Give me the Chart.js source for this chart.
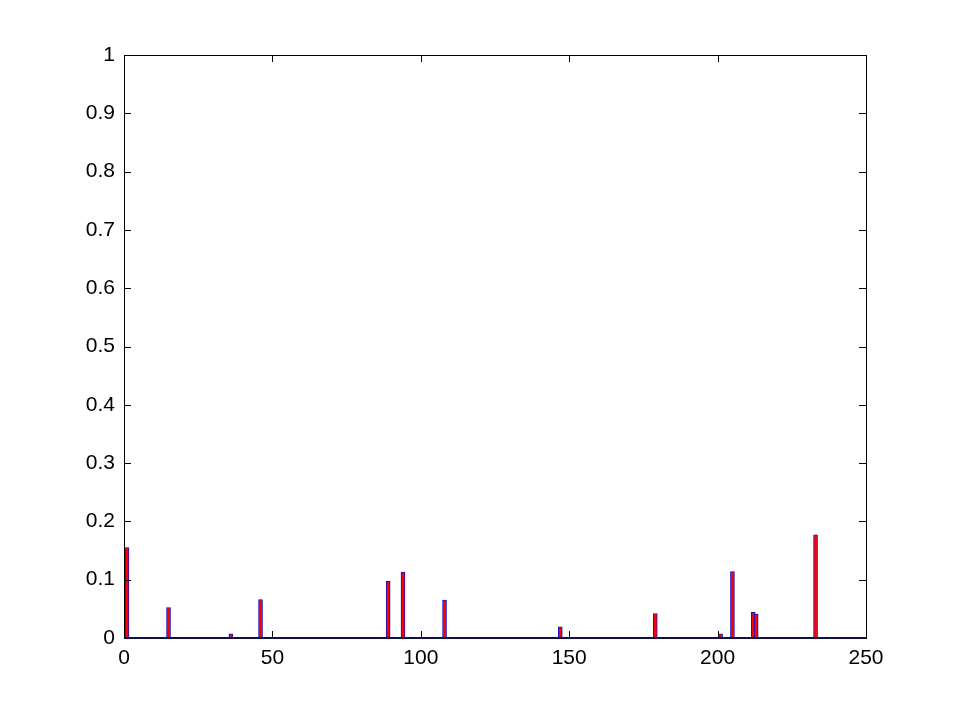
<!DOCTYPE html>
<html>
<head>
<meta charset="utf-8">
<script src="https://cdn.jsdelivr.net/npm/chart.js@4.4.1/dist/chart.umd.min.js"></script>
<style>
  html, body { margin: 0; padding: 0; background: #fff; }
  #wrap { width: 955px; height: 718px; }
</style>
</head>
<body>
<div id="wrap"><canvas id="chart" width="955" height="718"></canvas></div>
<script>
// bar positions (x) and heights
const barPositions = [1, 15, 36, 46, 89, 94, 108, 147, 179, 201, 205, 212, 213, 233];
const barValues = [0.155, 0.052, 0.007, 0.066, 0.097, 0.113, 0.065, 0.019, 0.042, 0.007, 0.114, 0.044, 0.041, 0.177];

const xTickLabels = ['0', '50', '100', '150', '200', '250'];
const yTickLabels = ['0', '0.1', '0.2', '0.3', '0.4', '0.5', '0.6', '0.7', '0.8', '0.9', '1'];

const points = barPositions.map((x, i) => ({ x: x, y: barValues[i] }));

// matlab style box with inward ticks on all four sides
const boxPlugin = {
  id: 'boxPlugin',
  afterDraw(chart) {
    const ctx = chart.ctx;
    const a = chart.chartArea;
    const xs = chart.scales.x;
    const ys = chart.scales.y;
    const len = 7;
    ctx.save();
    ctx.strokeStyle = '#000';
    ctx.lineWidth = 1;
    ctx.beginPath();
    xs.ticks.forEach((t, i) => {
      const px = Math.round(xs.getPixelForTick(i)) + 0.5;
      ctx.moveTo(px, a.bottom);
      ctx.lineTo(px, a.bottom - len);
      ctx.moveTo(px, a.top);
      ctx.lineTo(px, a.top + len);
    });
    ys.ticks.forEach((t, i) => {
      const py = Math.round(ys.getPixelForTick(i)) + 0.5;
      ctx.moveTo(a.left, py);
      ctx.lineTo(a.left + len, py);
      ctx.moveTo(a.right, py);
      ctx.lineTo(a.right - len, py);
    });
    ctx.stroke();
    ctx.strokeRect(Math.round(a.left) + 0.5, Math.round(a.top) + 0.5,
      Math.round(a.right - a.left), Math.round(a.bottom - a.top));
    // baseline at zero
    ctx.strokeStyle = '#101040';
    ctx.lineWidth = 2;
    ctx.beginPath();
    const y0 = Math.round(ys.getPixelForValue(0));
    ctx.moveTo(a.left, y0);
    ctx.lineTo(a.right, y0);
    ctx.stroke();
    ctx.restore();
  }
};

new Chart(document.getElementById('chart'), {
  type: 'bar',
  data: {
    datasets: [{
      data: points,
      backgroundColor: '#ff0000',
      borderColor: '#1010c8',
      borderWidth: 1,
      barThickness: 4
    }]
  },
  options: {
    responsive: false,
    animation: false,
    layout: { padding: { left: 0, top: 55, right: 89, bottom: 0 } },
    plugins: { legend: { display: false }, tooltip: { enabled: false } },
    scales: {
      x: {
        type: 'linear',
        min: 0,
        max: 250,
        offset: false,
        grid: { display: false, drawTicks: false, offset: false },
        border: { display: false },
        afterFit(scale) { scale.height = 80; },
        ticks: {
          stepSize: 50,
          maxRotation: 0,
          padding: 8,
          color: '#000',
          font: { family: 'Liberation Sans', size: 21 },
          callback: (v, i) => xTickLabels[i]
        }
      },
      y: {
        min: 0,
        max: 1,
        grid: { display: false, drawTicks: false },
        border: { display: false },
        afterFit(scale) { scale.width = 124; },
        ticks: {
          stepSize: 0.1,
          padding: 9,
          color: '#000',
          font: { family: 'Liberation Sans', size: 21 },
          callback: (v, i) => yTickLabels[i]
        }
      }
    }
  },
  plugins: [boxPlugin]
});
</script>
</body>
</html>
